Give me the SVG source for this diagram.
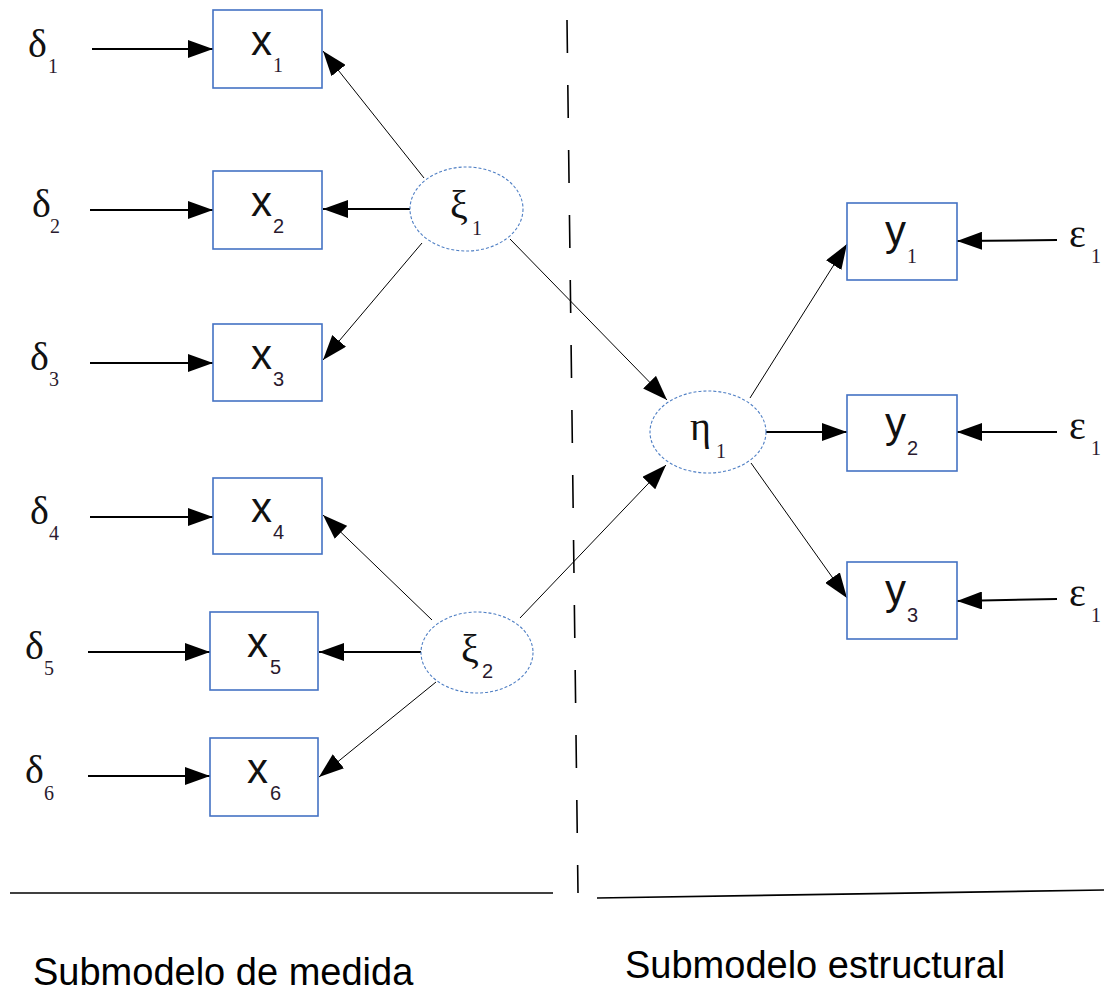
<svg xmlns="http://www.w3.org/2000/svg" width="1104" height="992" viewBox="0 0 1104 992">
<defs>
<marker id="ah" markerUnits="userSpaceOnUse" markerWidth="26" markerHeight="18" refX="25" refY="9" orient="auto">
<path d="M0,0 L25,9 L0,18 z" fill="#000"/>
</marker>
<style>
.box{fill:#fff;stroke:#4472c4;stroke-width:1.6}
.lat{fill:#fff;stroke:#4f7fc4;stroke-width:1.1;stroke-dasharray:3 2}
.var{font-family:"Liberation Sans",Arial,sans-serif;font-size:42px;fill:#111}
.sub{font-family:"Liberation Sans",Arial,sans-serif;font-size:20px;fill:#2a1a2e}
.gr{font-family:"Liberation Serif","Times New Roman",serif;font-size:40px;fill:#111}
.gsub{font-family:"Liberation Serif","Times New Roman",serif;font-size:20px;fill:#2a1a2e}
.thick{stroke:#000;stroke-width:2;fill:none;marker-end:url(#ah)}
.thin{stroke:#000;stroke-width:1;fill:none;marker-end:url(#ah)}
.cap{font-family:"Liberation Sans",Arial,sans-serif;font-size:38px;fill:#000}
</style>
</defs>
<rect width="1104" height="992" fill="#fff"/>

<g id="connectors">
<line class="thick" x1="92" y1="49" x2="213" y2="49"/>
<line class="thick" x1="90" y1="210" x2="213" y2="210"/>
<line class="thick" x1="90" y1="363" x2="213" y2="363"/>
<line class="thick" x1="90" y1="517" x2="213" y2="517"/>
<line class="thick" x1="88" y1="652" x2="210" y2="652"/>
<line class="thick" x1="88" y1="776" x2="210" y2="776"/>
<line class="thin" x1="424" y1="178" x2="323" y2="51"/>
<line class="thick" x1="410" y1="209" x2="323" y2="209"/>
<line class="thin" x1="422" y1="243" x2="323" y2="360"/>
<line class="thin" x1="510" y1="239" x2="667" y2="400"/>
<line class="thin" x1="432" y1="620" x2="323" y2="515"/>
<line class="thick" x1="421" y1="652" x2="319" y2="652"/>
<line class="thin" x1="436" y1="682" x2="319" y2="777"/>
<line class="thin" x1="520" y1="618" x2="666" y2="465"/>
<line class="thin" x1="750" y1="398" x2="847" y2="244"/>
<line class="thick" x1="766" y1="432" x2="847" y2="432"/>
<line class="thin" x1="751" y1="463" x2="847" y2="598"/>
<line class="thick" x1="1057" y1="240" x2="957" y2="241"/>
<line class="thick" x1="1057" y1="432" x2="957" y2="432"/>
<line class="thick" x1="1057" y1="599" x2="957" y2="601"/>
</g>

<g id="divider">
<line x1="567" y1="20" x2="578" y2="893" stroke="#000" stroke-width="1.6" stroke-dasharray="33 32"/>
<line x1="10" y1="893" x2="553" y2="893" stroke="#000" stroke-width="1.6"/>
<line x1="597" y1="898" x2="1104" y2="890" stroke="#000" stroke-width="1.6"/>
</g>

<g id="d1"><text class="gr" x="28" y="57">δ</text><text class="gsub" x="48" y="73">1</text></g>
<g id="d2"><text class="gr" x="32" y="217">δ</text><text class="gsub" x="50" y="233">2</text></g>
<g id="d3"><text class="gr" x="30" y="370">δ</text><text class="gsub" x="49" y="386">3</text></g>
<g id="d4"><text class="gr" x="30" y="524">δ</text><text class="gsub" x="49" y="540">4</text></g>
<g id="d5"><text class="gr" x="25" y="659">δ</text><text class="gsub" x="44" y="675">5</text></g>
<g id="d6"><text class="gr" x="25" y="783">δ</text><text class="gsub" x="44" y="800">6</text></g>

<g id="x1"><rect class="box" x="213" y="10" width="109" height="78"/><text class="var" x="251" y="55">x</text><text class="gsub" x="273" y="72">1</text></g>
<g id="x2"><rect class="box" x="213" y="171" width="109" height="78"/><text class="var" x="251" y="216">x</text><text class="sub" x="273" y="233">2</text></g>
<g id="x3"><rect class="box" x="213" y="324" width="109" height="77"/><text class="var" x="251" y="369">x</text><text class="sub" x="273" y="386">3</text></g>
<g id="x4"><rect class="box" x="213" y="478" width="109" height="76"/><text class="var" x="251" y="522">x</text><text class="sub" x="273" y="539">4</text></g>
<g id="x5"><rect class="box" x="210" y="612" width="108" height="78"/><text class="var" x="247" y="657">x</text><text class="sub" x="270" y="674">5</text></g>
<g id="x6"><rect class="box" x="210" y="738" width="108" height="78"/><text class="var" x="247" y="783">x</text><text class="sub" x="270" y="800">6</text></g>

<g id="xi1"><ellipse class="lat" cx="466.5" cy="209" rx="56.5" ry="42"/><text class="gr" x="450" y="218">ξ</text><text class="gsub" x="472" y="235">1</text></g>
<g id="xi2"><ellipse class="lat" cx="477" cy="652.5" rx="56" ry="40.5"/><text class="gr" x="461" y="662">ξ</text><text class="sub" x="482" y="678">2</text></g>
<g id="eta1"><ellipse class="lat" cx="708" cy="432" rx="58" ry="41"/><text class="gr" x="690" y="440">η</text><text class="gsub" x="716" y="458">1</text></g>

<g id="y1"><rect class="box" x="847" y="203" width="110" height="77"/><text class="var" x="885" y="245">y</text><text class="gsub" x="907" y="263">1</text></g>
<g id="y2"><rect class="box" x="847" y="395" width="110" height="76"/><text class="var" x="885" y="437">y</text><text class="sub" x="907" y="455">2</text></g>
<g id="y3"><rect class="box" x="847" y="562" width="110" height="77"/><text class="var" x="885" y="604">y</text><text class="sub" x="907" y="622">3</text></g>

<g id="e1"><text class="gr" x="1069" y="247">ε</text><text class="gsub" x="1091" y="263">1</text></g>
<g id="e2"><text class="gr" x="1069" y="439">ε</text><text class="gsub" x="1091" y="455">1</text></g>
<g id="e3"><text class="gr" x="1069" y="606">ε</text><text class="gsub" x="1091" y="622">1</text></g>

<g id="captions">
<text class="cap" x="33" y="985">Submodelo de medida</text>
<text class="cap" x="625" y="978">Submodelo estructural</text>
</g>
</svg>
